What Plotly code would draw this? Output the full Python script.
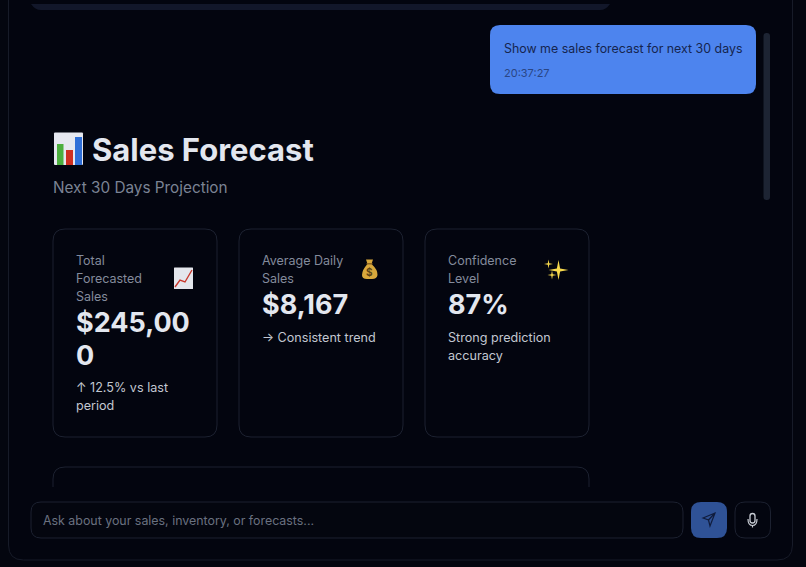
import plotly.graph_objects as go

FONT = "Inter"
W, H = 806, 567

# Content
title = "Sales Forecast"
subtitle = "Next 30 Days Projection"
user_message = "Show me sales forecast for next 30 days"
timestamp = "20:37:27"
placeholder = "Ask about your sales, inventory, or forecasts..."
card_labels = [["Total", "Forecasted", "Sales"], ["Average Daily", "Sales"], ["Confidence", "Level"]]
card_values = [["$245,00", "0"], ["$8,167"], ["87%"]]
card_notes = [["↑ 12.5% vs last", "period"], ["→ Consistent trend"], ["Strong prediction", "accuracy"]]

LINE = "#1c2130"
shapes, annos = [], []


def rr(x0, y0, x1, y1, r):
    return (f"M{x0+r},{y0} L{x1-r},{y0} Q{x1},{y0} {x1},{y0+r} L{x1},{y1-r} Q{x1},{y1} {x1-r},{y1} "
            f"L{x0+r},{y1} Q{x0},{y1} {x0},{y1-r} L{x0},{y0+r} Q{x0},{y0} {x0+r},{y0} Z")


def box(x0, y0, x1, y1, r, fill="rgba(0,0,0,0)", line=None, lw=1):
    shapes.append(dict(type="path", path=rr(x0, y0, x1, y1, r), fillcolor=fill, layer="above",
                       line=dict(color=line or "rgba(0,0,0,0)", width=lw if line else 0)))


def path(d, fill="rgba(0,0,0,0)", line=None, lw=1):
    shapes.append(dict(type="path", path=d, fillcolor=fill, layer="above",
                       line=dict(color=line or "rgba(0,0,0,0)", width=lw if line else 0)))


def text(x, y, s, size, color, weight=400, anchor="left"):
    annos.append(dict(x=x - (1.4 if anchor == "left" else 0), y=y, text=s, xref="x", yref="y", showarrow=False,
                      xanchor=anchor, yanchor="middle", align=anchor, borderpad=0,
                      font=dict(family=FONT, size=size, color=color, weight=weight)))


# Outer panel (top runs off the page)
path("M8.5,-20 L8.5,545 Q8.5,560 23.5,560 L777,560 Q792.5,560 792.5,545 L792.5,-20", fill="#03050f", line="#171b28")

# Clipped bar at the top
path("M31,4 L610,4 Q606,10 600,10 L41,10 Q35,10 31,4 Z", fill="#12172a")

# User bubble and scrollbar
box(490, 25, 756, 94, 10, fill="#4d84ee")
text(504.8, 48, user_message, 12.4, "#15244f")
text(504.8, 72.5, timestamp, 11, "#2a4685")
box(763.5, 33, 770, 200, 3, fill="#1d2433")

# Heading with bar-chart emoji
box(54, 132.5, 83, 165, 1, fill="#e6e8f0")
for x0, x1, y0, c in [(57, 63.5, 144, "#4caf3e"), (66, 73, 150, "#cf2f20"), (75, 82, 137, "#2f6fd8")]:
    shapes.append(dict(type="rect", x0=x0, x1=x1, y0=y0, y1=165, fillcolor=c, line=dict(width=0), layer="above"))
text(92.5, 149, title, 31, "#e3e7ef", 700)
text(53.3, 187, subtitle, 15.3, "#7b8394")

# Cards
card_x = [53, 239, 425]
label_ys = [260, 278, 296]
value_ys = [[322.5, 355], [304], [304]]
note_ys = [[387.5, 405.5], [337], [337, 355]]
for i, x0 in enumerate(card_x):
    box(x0, 229, x0 + 164, 437, 12, line=LINE)
    for y, s in zip(label_ys, card_labels[i]):
        text(x0 + 23, y, s, 12.5, "#838b9c")
    for y, s in zip(value_ys[i], card_values[i]):
        text(x0 + 23, y, s, 27, "#e3e7ef", 700)
    for y, s in zip(note_ys[i], card_notes[i]):
        text(x0 + 23, y, s, 12.6, "#c2c7d1")

# Chart-increasing emoji
box(174, 267.5, 193, 289, 0.5, fill="#e4e6ec")
path("M175,287 L180,280 L185,282 L192,270", line="#c8392e", lw=1.4)

# Money bag emoji
path("M366,259.5 L373,259.5 L371.5,264 Q378,270 377.5,275 Q377,279 372,279 L367,279 Q362,279 362,275 Q362,270 367.5,264 Z",
     fill="#d8a83c")
box(366.5, 263, 372.5, 264.5, 0.5, fill="#8d6420")
text(369.5, 272, "$", 10, "#5b4214", 700, "center")

# Sparkles emoji
for cx, cy, r in [(558.5, 270, 10), (548.5, 264, 4.5), (552, 275, 4.5)]:
    k = r * 0.16
    path(f"M{cx},{cy-r} L{cx+k},{cy-k} L{cx+r},{cy} L{cx+k},{cy+k} L{cx},{cy+r} L{cx-k},{cy+k} L{cx-r},{cy} L{cx-k},{cy-k} Z",
         fill="#f6d84c")

# Card clipped by the input area
path("M53,487 L53,479 Q53,467 65,467 L577,467 Q589,467 589,479 L589,487", line=LINE)

# Input row
box(31, 502, 683, 538, 10, fill="#04060f", line=LINE)
text(43.3, 520, placeholder, 12.4, "#6a7180")
box(691, 502, 727, 538, 10, fill="#2f5296")
path("M703,518 L715,513 L710,526 L708.5,520 Z M708.5,520 L715,513", line="#101c3c", lw=1.2)
box(735, 502, 770.5, 538, 10, line=LINE)
box(750, 513.5, 755, 523, 2.5, line="#c8ccd4", lw=1.3)
path("M748,519 Q748,525.5 752.5,525.5 Q757,525.5 757,519 M752.5,525.5 L752.5,527.5", line="#c8ccd4", lw=1.2)

fig = go.Figure()
fig.update_layout(
    width=W, height=H, margin=dict(l=0, r=0, t=0, b=0), autosize=False,
    paper_bgcolor="#04060f", plot_bgcolor="#04060f", showlegend=False,
    xaxis=dict(range=[0, W], visible=False, fixedrange=True),
    yaxis=dict(range=[H, 0], visible=False, fixedrange=True),
    shapes=shapes, annotations=annos,
)
fig.write_html("out.html", config={"displayModeBar": False},
               post_script="document.body.style.margin='0';document.body.style.background='#04060f';document.body.style.overflow='hidden';")
